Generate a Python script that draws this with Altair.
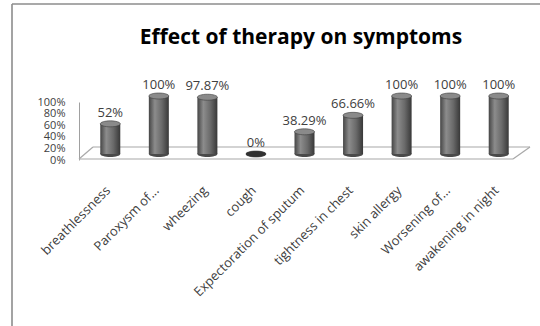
import altair as alt
import pandas as pd

categories = ["breathlessness", "Paroxysm of...", "wheezing", "cough",
              "Expectoration of sputum", "tightness in chest", "skin allergy",
              "Worsening of...", "awakening in night"]
values = [52, 100, 97.87, 0, 38.29, 66.66, 100, 100, 100]
labels = ["52%", "100%", "97.87%", "0%", "38.29%", "66.66%", "100%", "100%", "100%"]
y_ticks = [0, 20, 40, 60, 80, 100]
title_text = "Effect of therapy on symptoms"

df = pd.DataFrame({"cat": categories, "val": values, "lab": labels})

FONT = "Open Sans"
W, H = 437, 58
OFF = -6

xenc = alt.X("cat:N", sort=categories,
             scale=alt.Scale(paddingInner=0, paddingOuter=0),
             axis=alt.Axis(title=None, domain=False, ticks=False, labelAngle=-45,
                           labelAlign="right", labelBaseline="middle",
                           labelPadding=28, labelOffset=-2, labelLimit=0,
                           labelFont=FONT, labelFontSize=13, labelColor="#404040"))
yscale = alt.Scale(domain=[0, 100], nice=False)
yaxis = alt.Axis(title=None, values=y_ticks, grid=False, ticks=False,
                 domain=True, domainColor="#a0a0a0", offset=7,
                 labelPadding=14, labelExpr="datum.value + '%'",
                 labelOverlap=False, labelFlush=False, labelBound=False,
                 labelFont=FONT, labelFontSize=11, labelColor="#404040")
yenc = alt.Y("val:Q", scale=yscale, axis=yaxis)

base = alt.Chart(df)

ellipse = ("M-1,0 C-1,-0.166 -0.552,-0.3 0,-0.3 C0.552,-0.3 1,-0.166 1,0 "
           "C1,0.166 0.552,0.3 0,0.3 C-0.552,0.3 -1,0.166 -1,0 Z")

grad = alt.Gradient(gradient="linear", x1=0, x2=1, y1=0, y2=0,
                    stops=[alt.GradientStop(offset=0, color="#454545"),
                           alt.GradientStop(offset=0.3, color="#8c8c8c"),
                           alt.GradientStop(offset=0.65, color="#6a6a6a"),
                           alt.GradientStop(offset=1, color="#383838")])

bottom = base.mark_point(shape=ellipse, size=400, filled=True, opacity=1,
                         color="#4a4a4a", yOffset=OFF).encode(
    x=xenc, y=alt.Y("zero:Q", scale=yscale, axis=yaxis)).transform_calculate(zero="0")

bars = base.mark_bar(width=20, fill=grad, yOffset=OFF, y2Offset=OFF).encode(
    x=xenc, y=yenc, y2=alt.Y2("zero:Q")).transform_calculate(zero="0")

tops = base.mark_point(shape=ellipse, size=400, filled=True, opacity=1,
                       stroke="#3c3c3c", strokeWidth=0.6, yOffset=OFF).encode(
    x=xenc, y=yenc,
    fill=alt.condition("datum.val > 0", alt.value("#8a8a8a"), alt.value("#303030")))

text = base.mark_text(font=FONT, fontSize=13, color="#404040", baseline="middle",
                      dy=-17).encode(
    x=xenc, y=yenc, text="lab:N")

# decorative floor and frame (pixel positions relative to plot area)
def seg(x1, y1, x2, y2, color="#a8a8a8", w=1.2):
    return alt.Chart(pd.DataFrame({"a": [0]})).mark_rule(color=color, strokeWidth=w).encode(
        x=alt.value(x1), y=alt.value(y1), x2=alt.value(x2), y2=alt.value(y2))

floor = (seg(-7, 57, 427, 57) + seg(7, 45, 444, 45) +
         seg(-7, 57, 7, 45) + seg(427, 57, 444, 45))
frame = seg(-74, -98, -74, 230, color="#8c8c8c", w=1.6) + seg(-74, -98, 460, -98, color="#8c8c8c", w=1.6)

title = alt.Chart(pd.DataFrame({"t": [title_text]})).mark_text(
    font=FONT, fontSize=21, fontWeight="bold", color="#000000",
    align="center", baseline="alphabetic").encode(
    x=alt.value(215), y=alt.value(-58), text="t:N")

chart = alt.layer(frame, floor, bottom, bars, tops, text, title).properties(
    width=W, height=H,
    autosize=alt.AutoSizeParams(type="none"),
    padding={"left": 86, "top": 102, "right": 17, "bottom": 166},
    background="white",
).configure_view(stroke=None).configure_axisY(labelOverlap=False)

chart.save("out.html", embed_options={"renderer": "svg", "actions": False})
